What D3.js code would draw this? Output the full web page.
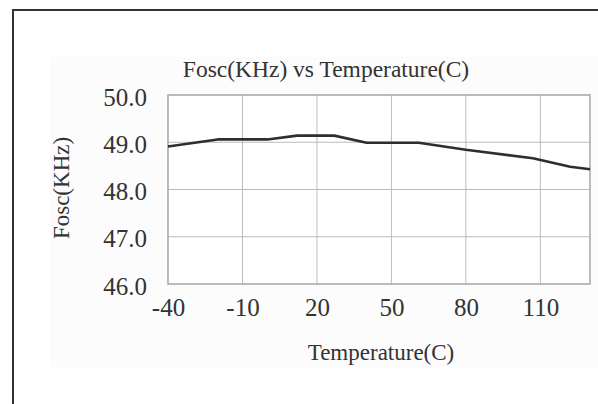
<!DOCTYPE html>
<html>
<head>
<meta charset="utf-8">
<script src="https://cdn.jsdelivr.net/npm/d3@7"></script>
<style>
  body { margin: 0; background: #fff; }
  text { font-family: "Liberation Serif", "DejaVu Serif", serif; fill: #333; }
</style>
</head>
<body>
<svg width="598" height="404"></svg>
<script>
var temps = [-40, -20, 0, 12, 27, 40, 61, 80, 107, 122, 130];
var fosc = [48.91, 49.06, 49.06, 49.14, 49.14, 48.99, 48.99, 48.84, 48.66, 48.48, 48.43];
var xTicks = [-40, -10, 20, 50, 80, 110];
var yTicks = [46, 47, 48, 49, 50];

var svg = d3.select("svg"),
margin = {top: 95, right: 8, bottom: 120, left: 168},
width = +svg.attr("width") - margin.left - margin.right,
height = +svg.attr("height") - margin.top - margin.bottom;

// faint scanned panel
svg.append("rect")
.attr("x", 50).attr("y", 57)
.attr("width", 548).attr("height", 310)
.attr("fill", "#fcfcfc");

// outer frame (left and top only)
svg.append("path")
.attr("d", "M13,404V10H598")
.attr("fill", "none")
.attr("stroke", "#333")
.attr("stroke-width", 2);

var g = svg.append("g").attr("transform", "translate(" + margin.left + "," + margin.top + ")");

var x = d3.scaleLinear().domain([-40, 130]).range([0, width]);
var y = d3.scaleLinear().domain([46, 50]).range([height, 0]);

g.append("rect")
.attr("width", width).attr("height", height)
.attr("fill", "#fff");

// grid
g.append("g")
.selectAll("line")
.data(xTicks.slice(1))
.enter().append("line")
.attr("x1", function(d) { return x(d); })
.attr("x2", function(d) { return x(d); })
.attr("y1", 0).attr("y2", height)
.attr("stroke", "#bbb").attr("stroke-width", 1);

g.append("g")
.selectAll("line")
.data(yTicks.slice(1, -1))
.enter().append("line")
.attr("x1", 0).attr("x2", width)
.attr("y1", function(d) { return y(d); })
.attr("y2", function(d) { return y(d); })
.attr("stroke", "#bbb").attr("stroke-width", 1);

g.append("rect")
.attr("width", width).attr("height", height)
.attr("fill", "none")
.attr("stroke", "#aaa").attr("stroke-width", 1.6);

// axes (labels only)
var xAxis = g.append("g")
.attr("transform", "translate(0," + height + ")")
.call(d3.axisBottom(x).tickValues(xTicks).tickSize(0).tickPadding(14)
  .tickFormat(function(d) { return String(d); }));

var yAxis = g.append("g")
.attr("transform", "translate(0,2)")
.call(d3.axisLeft(y).tickValues(yTicks).tickSize(0).tickPadding(21).tickFormat(d3.format(".1f")));

[xAxis, yAxis].forEach(function(a) {
  a.select(".domain").remove();
  a.selectAll("text")
  .attr("font-family", "Liberation Serif, serif")
  .attr("font-size", 25)
  .attr("fill", "#333");
});

// data line
g.append("path")
.datum(temps.map(function(t, i) { return [t, fosc[i]]; }))
.attr("fill", "none")
.attr("stroke", "#2e2e2e")
.attr("stroke-width", 2.6)
.attr("stroke-linejoin", "round")
.attr("d", d3.line()
  .x(function(d) { return x(d[0]); })
  .y(function(d) { return y(d[1]); }));

// titles
svg.append("text")
.attr("x", 326).attr("y", 77)
.attr("text-anchor", "middle")
.attr("font-size", 23.5)
.text("Fosc(KHz) vs Temperature(C)");

svg.append("text")
.attr("x", 381).attr("y", 360)
.attr("text-anchor", "middle")
.attr("font-size", 23)
.text("Temperature(C)");

svg.append("text")
.attr("transform", "translate(69,188) rotate(-90)")
.attr("text-anchor", "middle")
.attr("font-size", 23)
.text("Fosc(KHz)");
</script>
</body>
</html>
